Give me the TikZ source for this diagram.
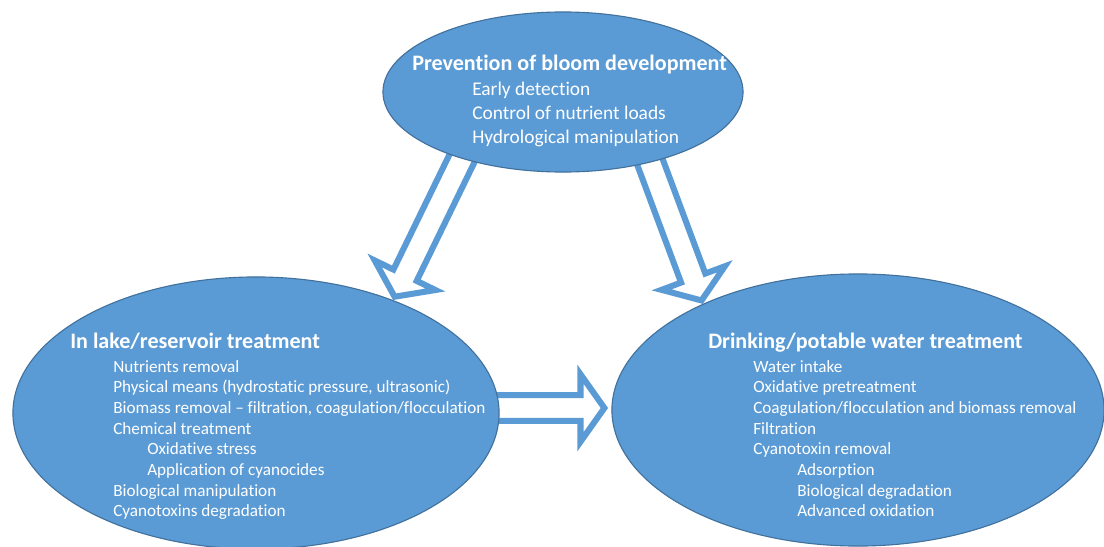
\documentclass[tikz,border=0pt]{standalone}
\usepackage{fontspec}
\setmainfont{Carlito}[Ligatures={TeX,NoCommon}]
\usetikzlibrary{calc,backgrounds,shapes.geometric}
\definecolor{bubble}{HTML}{5B9BD5}
\definecolor{bubbleline}{HTML}{41719C}
\def\shaftw{9.2pt}
\def\headw{24pt}
\def\headl{17pt}
\def\blockarrow(#1)(#2){\coordinate (head) at ($(#2)!\headl!(#1)$);
	\draw[blockarrow] ($(#1)!\shaftw!90:(#2)$) -- ($(head)!\shaftw!90:(#2)$) -- ($(head)!\headw!90:(#2)$) -- (#2) -- ($(head)!\headw!-90:(#2)$) -- ($(head)!\shaftw!-90:(#2)$) -- ($(#1)!\shaftw!-90:(#2)$) -- cycle;}
\tikzset{
	bubble/.style={ellipse, draw=bubbleline, line width=0.8pt, fill=bubble, inner sep=0pt},
	blockarrow/.style={draw=bubble, fill=white, line width=4.3pt, line join=miter},
	headline/.style={text=white, inner sep=0pt, anchor=base west, font=\fontsize{15.7}{18}\selectfont\bfseries},
	entry/.style={text=white, inner sep=0pt, anchor=base west, font=\fontsize{12.2}{14}\selectfont}
}
\begin{document}
\begin{tikzpicture}[x=0.025cm, y=-0.025cm]
			%%%%% START %%%%%
			
			\useasboundingbox (0, 0) rectangle (1104, 546);
			\clip (0, 0) rectangle (1104, 546);
			
			\node[bubble, minimum width=9cm, minimum height=4cm] (prevention) at (563, 92) {};
			\node[bubble, minimum width=12.15cm, minimum height=6.8cm] (lake) at (256, 413) {};
			\node[bubble, minimum width=12.3cm, minimum height=6.8cm] (drinking) at (858, 410) {};
			
			\coordinate (prevention-l) at ($(prevention)+(-95, 54)$);
			\coordinate (prevention-r) at ($(prevention)+(81, 54)$);
			\coordinate (lake-in) at ($(lake.40)!-3pt!(lake)$);
			\coordinate (drinking-in) at ($(drinking.145)!-3pt!(drinking)$);
			\coordinate (lake-out) at ($(lake.east)+(-15, -5)$);
			\coordinate (drinking-side) at ($(drinking.west)+(-7, -2)$);
			
			\begin{scope}[on background layer]
				\fill[white] (0, 0) rectangle (1104, 546);
				\blockarrow(prevention-l)(lake-in)
				\blockarrow(prevention-r)(drinking-in)
				\blockarrow(lake-out)(drinking-side)
			\end{scope}
			
			\node[headline] (prevention-title) at (412, 70) {Prevention of bloom development};
			\foreach \entry [count=\i] in {Early detection, Control of nutrient loads, Hydrological manipulation}
				\node[entry, font=\fontsize{13.8}{16}\selectfont] (prevention-\i) at (472, {95+24*(\i-1)}) {\entry};
			
			\node[headline] (lake-title) at (70, 348) {In lake/reservoir treatment};
			\foreach \dx/\entry [count=\i] in {0/Nutrients removal, {0/{Physical means (hydrostatic pressure, ultrasonic)}}, {0/{Biomass removal – filtration, coagulation/flocculation}}, 0/Chemical treatment, 34/Oxidative stress, 34/Application of cyanocides, 0/Biological manipulation, 0/Cyanotoxins degradation}
				\node[entry] (lake-\i) at ({113+\dx}, {372+20.7*(\i-1)}) {\entry};
			
			\node[headline] (drinking-title) at (708, 348) {Drinking/potable water treatment};
			\foreach \dx/\entry [count=\i] in {0/Water intake, 0/Oxidative pretreatment, {0/{Coagulation/flocculation and biomass removal}}, 0/Filtration, 0/Cyanotoxin removal, 44/Adsorption, 44/Biological degradation, 44/Advanced oxidation}
				\node[entry] (drinking-\i) at ({753+\dx}, {372+20.7*(\i-1)}) {\entry};
			
			%%%%% END %%%%%
\end{tikzpicture}
\end{document}
